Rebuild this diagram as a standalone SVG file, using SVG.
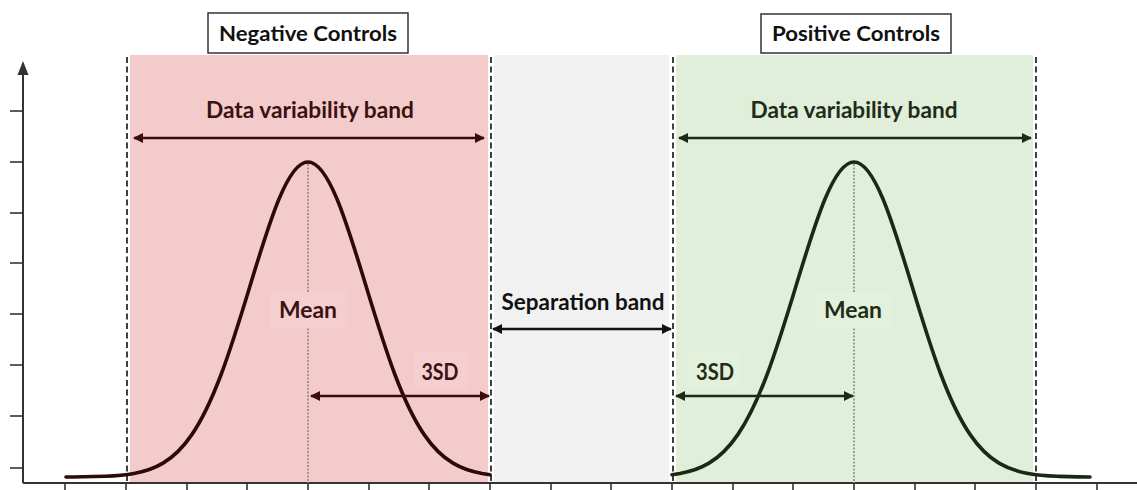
<svg xmlns="http://www.w3.org/2000/svg" width="1137" height="490" viewBox="0 0 1137 490">
  <style>
    text { font-family: Lato, "Liberation Sans", sans-serif; font-weight: bold; text-anchor: middle; }
    .title { font-size: 21px; fill: #111; }
    .band-label { font-size: 22px; }
    .neg { fill: #3a1212; }
    .pos { fill: #1f2c18; }
    .sep { fill: #111; }
    .axis { stroke: #333; stroke-width: 2; fill: none; }
    .tick { stroke: #333; stroke-width: 1.6; }
    .divider { stroke: #111; stroke-width: 1.6; stroke-dasharray: 6 3.5; }
    .curve { fill: none; stroke-width: 3.6; stroke-linejoin: round; stroke-linecap: round; }
    .mean-line { stroke-width: 2; stroke-dasharray: 2 1.5; }
    .dim { stroke-width: 2.6; fill: none; }
  </style>
  <defs>
    <marker id="head-neg" viewBox="0 0 10 10" refX="9" refY="5" markerWidth="11" markerHeight="10" markerUnits="userSpaceOnUse" orient="auto-start-reverse">
      <path d="M0,0 L10,5 L0,10 z" fill="#3a0c0c"/>
    </marker>
    <marker id="head-pos" viewBox="0 0 10 10" refX="9" refY="5" markerWidth="11" markerHeight="10" markerUnits="userSpaceOnUse" orient="auto-start-reverse">
      <path d="M0,0 L10,5 L0,10 z" fill="#1c2b15"/>
    </marker>
    <marker id="head-sep" viewBox="0 0 10 10" refX="9" refY="5" markerWidth="11" markerHeight="10" markerUnits="userSpaceOnUse" orient="auto-start-reverse">
      <path d="M0,0 L10,5 L0,10 z" fill="#111"/>
    </marker>
  </defs>

  <rect width="1137" height="490" fill="#fff"/>

  <!-- shaded bands -->
  <g id="bands">
    <rect x="130" y="55" width="358" height="428" fill="#f4cbcb"/>
    <rect x="494" y="55" width="175" height="428" fill="#f1f1f1"/>
    <rect x="676" y="55" width="357" height="428" fill="#e1eed9"/>
  </g>

  <!-- axes -->
  <g id="axes">
    <path class="axis" d="M23,483 V72 M23,483 H1137"/>
    <path d="M23,61 L28.5,75 L17.5,75 z" fill="#333"/>
    <g class="tick">
      <line x1="10" y1="111" x2="23" y2="111"/>
      <line x1="10" y1="162" x2="23" y2="162"/>
      <line x1="10" y1="213" x2="23" y2="213"/>
      <line x1="10" y1="263" x2="23" y2="263"/>
      <line x1="10" y1="314" x2="23" y2="314"/>
      <line x1="10" y1="365" x2="23" y2="365"/>
      <line x1="10" y1="416" x2="23" y2="416"/>
      <line x1="10" y1="468" x2="23" y2="468"/>
    </g>
    <g class="tick">
      <line x1="65" y1="483" x2="65" y2="490"/>
      <line x1="126" y1="483" x2="126" y2="490"/>
      <line x1="187" y1="483" x2="187" y2="490"/>
      <line x1="247" y1="483" x2="247" y2="490"/>
      <line x1="308" y1="483" x2="308" y2="490"/>
      <line x1="369" y1="483" x2="369" y2="490"/>
      <line x1="429" y1="483" x2="429" y2="490"/>
      <line x1="490" y1="483" x2="490" y2="490"/>
      <line x1="551" y1="483" x2="551" y2="490"/>
      <line x1="611" y1="483" x2="611" y2="490"/>
      <line x1="672" y1="483" x2="672" y2="490"/>
      <line x1="733" y1="483" x2="733" y2="490"/>
      <line x1="793" y1="483" x2="793" y2="490"/>
      <line x1="854" y1="483" x2="854" y2="490"/>
      <line x1="915" y1="483" x2="915" y2="490"/>
      <line x1="975" y1="483" x2="975" y2="490"/>
      <line x1="1036" y1="483" x2="1036" y2="490"/>
      <line x1="1097" y1="483" x2="1097" y2="490"/>
    </g>
  </g>

  <!-- dashed band limits -->
  <g id="limits" class="divider">
    <line x1="127" y1="57" x2="127" y2="483"/>
    <line x1="491" y1="57" x2="491" y2="483"/>
    <line x1="673" y1="57" x2="673" y2="483"/>
    <line x1="1036" y1="57" x2="1036" y2="483"/>
  </g>

  <!-- negative controls distribution -->
  <g id="neg-controls">
    <rect x="208" y="13" width="200" height="40" fill="#fff" stroke="#333" stroke-width="1.5"/>
    <text class="title" x="308" y="41" textLength="178" lengthAdjust="spacingAndGlyphs">Negative Controls</text>
    <text class="band-label neg" x="310" y="118" textLength="208" lengthAdjust="spacingAndGlyphs">Data variability band</text>
    <line class="mean-line" x1="308" y1="164" x2="308" y2="483" stroke="#a89292"/>
    <rect x="270" y="292" width="77" height="36" fill="#f5cfcf"/>
    <text class="band-label neg" x="308" y="318" textLength="58" lengthAdjust="spacingAndGlyphs">Mean</text>
    <rect x="414" y="352" width="54" height="36" fill="#f5cfcf"/>
    <text class="band-label neg" x="440" y="380" textLength="37" lengthAdjust="spacingAndGlyphs">3SD</text>
    <!-- gaussian, mean 308, sigma 58 px -->
    <path class="curve" stroke="#2b0a0a" d="M66,477 C80,477 95,476.6 105,476.31
      C114.67,475.91 124.33,475.25 134,473.5
      C143.67,471.75 153.33,468.93 163,463.16
      C172.67,457.39 182.33,448.58 192,434.37
      C201.67,420.16 211.33,400.31 221,374.74
      C230.67,349.17 240.33,317.78 250,285.94
      C259.67,254.1 269.33,222.18 279,199.01
      C288.67,175.84 298.33,162 308,162
      C317.67,162 327.33,175.84 337,199.01
      C346.67,222.18 356.33,254.1 366,285.94
      C375.67,317.78 385.33,349.17 395,374.74
      C404.67,400.31 414.33,420.16 424,434.37
      C433.67,448.58 443.33,457.39 453,463.16
      C462.67,468.93 472.33,471.75 482,473.5
      L490,474.7"/>
  </g>

  <!-- separation band -->
  <g id="separation">
    <text class="band-label sep" x="583" y="310" textLength="163" lengthAdjust="spacingAndGlyphs">Separation band</text>
  </g>

  <!-- positive controls distribution -->
  <g id="pos-controls">
    <rect x="761" y="14" width="190" height="39" fill="#fff" stroke="#333" stroke-width="1.5"/>
    <text class="title" x="856" y="41" textLength="168" lengthAdjust="spacingAndGlyphs">Positive Controls</text>
    <text class="band-label pos" x="854" y="118" textLength="207" lengthAdjust="spacingAndGlyphs">Data variability band</text>
    <line class="mean-line" x1="854" y1="164" x2="854" y2="483" stroke="#97a390"/>
    <rect x="815" y="292" width="77" height="36" fill="#e3f0db"/>
    <text class="band-label pos" x="853" y="318" textLength="58" lengthAdjust="spacingAndGlyphs">Mean</text>
    <rect x="688" y="352" width="54" height="36" fill="#e3f0db"/>
    <text class="band-label pos" x="715" y="380" textLength="38" lengthAdjust="spacingAndGlyphs">3SD</text>
    <!-- gaussian, mean 854, sigma 58 px -->
    <path class="curve" stroke="#1b2913" d="M672,474.7 L680,473.5
      C689.67,471.75 699.33,468.93 709,463.16
      C718.67,457.39 728.33,448.58 738,434.37
      C747.67,420.16 757.33,400.31 767,374.74
      C776.67,349.17 786.33,317.78 796,285.94
      C805.67,254.1 815.33,222.18 825,199.01
      C834.67,175.84 844.33,162 854,162
      C863.67,162 873.33,175.84 883,199.01
      C892.67,222.18 902.33,254.1 912,285.94
      C921.67,317.78 931.33,349.17 941,374.74
      C950.67,400.31 960.33,420.16 970,434.37
      C979.67,448.58 989.33,457.39 999,463.16
      C1008.67,468.93 1018.33,471.75 1028,473.5
      C1037.67,475.25 1047.33,475.91 1057,476.31
      C1067,476.6 1080,477 1090,477"/>
  </g>

  <!-- dimension arrows -->
  <g id="connectors">
    <line class="dim" x1="134" y1="138" x2="484" y2="138" stroke="#3a0c0c" marker-start="url(#head-neg)" marker-end="url(#head-neg)"/>
    <line class="dim" x1="311" y1="396" x2="489" y2="396" stroke="#3a0c0c" marker-start="url(#head-neg)" marker-end="url(#head-neg)"/>
    <line class="dim" x1="493" y1="329" x2="671" y2="329" stroke="#111" marker-start="url(#head-sep)" marker-end="url(#head-sep)"/>
    <line class="dim" x1="676" y1="396" x2="853" y2="396" stroke="#1c2b15" marker-start="url(#head-pos)" marker-end="url(#head-pos)"/>
    <line class="dim" x1="679" y1="138" x2="1031" y2="138" stroke="#1c2b15" marker-start="url(#head-pos)" marker-end="url(#head-pos)"/>
  </g>
</svg>
